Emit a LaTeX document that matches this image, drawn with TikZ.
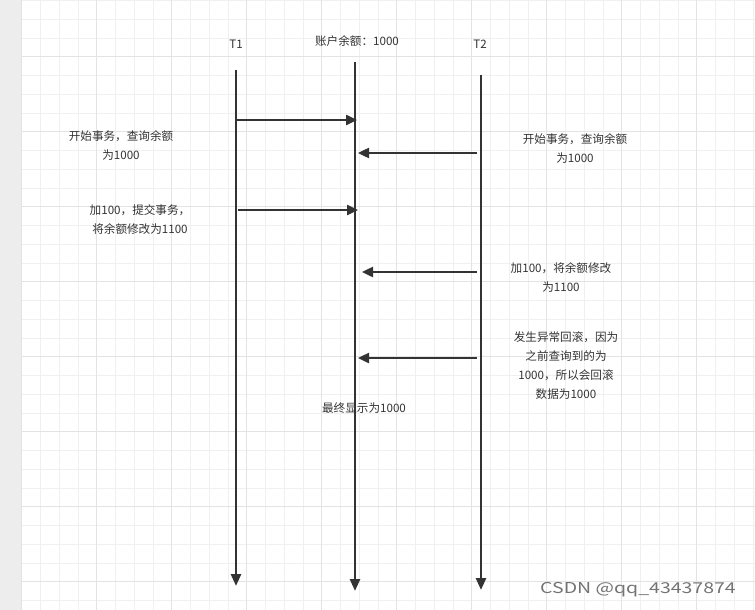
\documentclass[tikz,border=0pt]{standalone}
\usepackage{fontspec}
\setmainfont{Noto Sans CJK SC}
\usetikzlibrary{arrows.meta}
\begin{document}
\begin{tikzpicture}[x=1pt,y=-1pt,
  life/.style={draw=black!80,line width=2.6pt,-{Triangle[length=12pt,width=10pt]}},
  msg/.style={draw=black!80,line width=2.4pt,-{Triangle[length=11pt,width=10pt]}},
  lbl/.style={font=\fontsize{11.6}{19}\selectfont,text=black!80,align=center,inner sep=0pt}]
\useasboundingbox (0,0) rectangle (755,610);
\fill[white] (0,0) rectangle (755,610);
\fill[black!7] (0,0) rectangle (21,610);
\foreach \i in {0,...,39} {\draw[black!6,line width=0.8pt] ({21.7+18.75*\i},0) -- ({21.7+18.75*\i},610);}
\foreach \i in {0,...,33} {\draw[black!6,line width=0.8pt] (21.7,{0.45+18.75*\i}) -- (755,{0.45+18.75*\i});}
\foreach \i in {0,...,9} {\draw[black!11,line width=0.8pt] ({21.7+75*\i},0) -- ({21.7+75*\i},610);}
\foreach \i in {0,...,8} {\draw[black!11,line width=0.8pt] (21.7,{56.7+75*(\i-1)}) -- (755,{56.7+75*(\i-1)});}
\node[lbl] (t1) at (236,44) {T1};
\node[lbl] (acc) at (357,41) {账户余额：1000};
\node[lbl] (t2) at (480,44) {T2};
\coordinate (a0) at (236,70); \coordinate (a1) at (236,586);
\coordinate (b0) at (355,62); \coordinate (b1) at (355,591);
\coordinate (c0) at (481,75); \coordinate (c1) at (481,590);
\draw[life] (a0) -- (a1);
\draw[life] (b0) -- (b1);
\draw[life] (c0) -- (c1);
\coordinate (m1s) at (237,120); \coordinate (m1e) at (357,120);
\coordinate (m2s) at (477,153); \coordinate (m2e) at (358,153);
\coordinate (m3s) at (238,210); \coordinate (m3e) at (358,210);
\coordinate (m4s) at (477,272); \coordinate (m4e) at (362,272);
\coordinate (m5s) at (477,358); \coordinate (m5e) at (358,358);
\draw[msg] (m1s) -- (m1e);
\draw[msg] (m2s) -- (m2e);
\draw[msg] (m3s) -- (m3e);
\draw[msg] (m4s) -- (m4e);
\draw[msg] (m5s) -- (m5e);
\node[lbl] (l1) at (121,145) {开始事务，查询余额\\为1000};
\node[lbl] (l2) at (575,148) {开始事务，查询余额\\为1000};
\node[lbl] (l3) at (140,220) {加100，提交事务，\\将余额修改为1100};
\node[lbl] (l4) at (561,277) {加100，将余额修改\\为1100};
\node[lbl] (l5) at (566,366) {发生异常回滚，因为\\之前查询到的为\\1000，所以会回滚\\数据为1000};
\node[lbl] (l6) at (364,408) {最终显示为1000};
\node[lbl,text=black!55,font=\fontsize{15}{18}\selectfont,transform shape,xscale=1.3] (wm) at (638,590) {CSDN @qq\_43437874};
\end{tikzpicture}
\end{document}
